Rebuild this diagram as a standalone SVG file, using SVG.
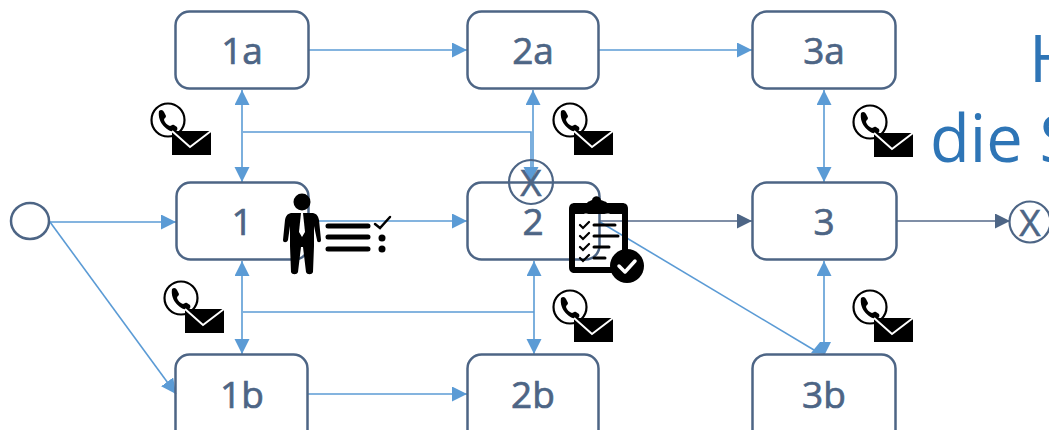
<svg xmlns="http://www.w3.org/2000/svg" xmlns:xlink="http://www.w3.org/1999/xlink" width="1049" height="430" viewBox="0 0 1049 430">
<style>
.box{fill:none;stroke:#4d6585;stroke-width:2.5}
.lbl{font-family:"Open Sans","Noto Sans",sans-serif;font-size:37px;fill:#4d6585;stroke:#4d6585;stroke-width:.7;text-anchor:middle}
.x{font-family:"Open Sans","Noto Sans",sans-serif;font-size:37px;fill:#4d6585;stroke:#4d6585;stroke-width:.5;text-anchor:middle}
.c{fill:none;stroke:#5b9bd5;stroke-width:1.6}
.d{fill:none;stroke:#7f8ea6;stroke-width:2}
.title{font-family:"Open Sans","Noto Sans",sans-serif;font-size:65px;fill:#2e75b6}
.k{fill:none;stroke:#000;stroke-linecap:round}
</style>
<defs>
<marker id="a" markerUnits="userSpaceOnUse" markerWidth="16" markerHeight="16" refX="15" refY="7.500" orient="auto-start-reverse"><path d="M0 0L15 7.500L0 15Z" fill="#5b9bd5"/></marker>
<marker id="ad" markerUnits="userSpaceOnUse" markerWidth="16" markerHeight="16" refX="15" refY="7.500" orient="auto"><path d="M0 0L15 7.500L0 15Z" fill="#4d6585"/></marker>
<g id="pm">
<circle cx="0" cy="0" r="16.500" fill="#fff" stroke="#000" stroke-width="2.200"/>
<path d="M-9-9C-7-11-5-10-4-8L-2-4C-2-2-4-2-4 0C-3 3-1 5 2 6C3 6 4 4 6 5L9 7C10 9 9 11 7 12C0 12-11 3-9-9Z" fill="#000"/>
<path d="M4 11H43V35H4Z" fill="#000"/>
<path d="M4 11L22 27L43 11" fill="none" stroke="#fff" stroke-width="2"/>
</g>
</defs>
<g id="connectors">
<line class="c" x1="50" y1="222" x2="176" y2="222" marker-end="url(#a)"/>
<line class="c" x1="50" y1="222" x2="176" y2="394" marker-end="url(#a)"/>
<line class="c" x1="309" y1="50" x2="467" y2="50" marker-end="url(#a)"/>
<line class="c" x1="599" y1="50" x2="752" y2="50" marker-end="url(#a)"/>
<line class="c" x1="309" y1="221" x2="467" y2="221" marker-end="url(#a)"/>
<line class="d" x1="600" y1="221" x2="752" y2="221" marker-end="url(#ad)"/>
<line class="d" x1="897" y1="221" x2="1010" y2="221" marker-end="url(#ad)"/>
<line class="c" x1="308" y1="394" x2="467" y2="394" marker-end="url(#a)"/>
<line class="c" x1="242" y1="90" x2="242" y2="182" marker-start="url(#a)" marker-end="url(#a)"/>
<line class="c" x1="242" y1="261" x2="242" y2="354" marker-start="url(#a)" marker-end="url(#a)"/>
<path class="c" d="M243 132H531V182" marker-end="url(#a)"/>
<line class="c" x1="533" y1="182" x2="533" y2="90" marker-end="url(#a)"/>
<path class="c" d="M243 312H534"/>
<line class="c" x1="534" y1="261" x2="534" y2="354" marker-start="url(#a)" marker-end="url(#a)"/>
<line class="c" x1="824" y1="90" x2="824" y2="182" marker-start="url(#a)" marker-end="url(#a)"/>
<line class="c" x1="824" y1="261" x2="824" y2="354" marker-start="url(#a)"/>
<line class="c" x1="600" y1="222" x2="814" y2="350"/>
<path d="M811 353L820 342H831L825 354Z" fill="#5b9bd5"/>
</g>
<g id="start"><ellipse class="box" cx="30" cy="221" rx="19" ry="18"/></g>
<g id="n1a"><rect class="box" x="175.500" y="11.500" width="133" height="77" rx="14"/><text class="lbl" x="242" y="64">1a</text></g>
<g id="n2a"><rect class="box" x="467.500" y="11.500" width="131" height="77" rx="14"/><text class="lbl" x="533" y="64">2a</text></g>
<g id="n3a"><rect class="box" x="752.500" y="11.500" width="143" height="77" rx="14"/><text class="lbl" x="824" y="64">3a</text></g>
<g id="n1"><rect class="box" x="176.500" y="182.500" width="132" height="77" rx="14"/><text class="lbl" x="242" y="235">1</text></g>
<g id="n2"><rect class="box" x="467.500" y="182.500" width="132" height="77" rx="14"/><text class="lbl" x="533" y="235">2</text></g>
<g id="n3"><rect class="box" x="752.500" y="182.500" width="144" height="77" rx="14"/><text class="lbl" x="824" y="235">3</text></g>
<g id="n1b"><rect class="box" x="175.500" y="354.500" width="132" height="90" rx="14"/><text class="lbl" x="242" y="408">1b</text></g>
<g id="n2b"><rect class="box" x="467.500" y="354.500" width="131" height="90" rx="14"/><text class="lbl" x="533" y="408">2b</text></g>
<g id="n3b"><rect class="box" x="752.500" y="354.500" width="143" height="90" rx="14"/><text class="lbl" x="824" y="408">3b</text></g>
<g id="gw2"><circle cx="531" cy="182" r="22" fill="none" stroke="#4d6585" stroke-width="2.200"/><text class="x" x="531" y="196">X</text></g>
<g id="end"><circle cx="1030" cy="222" r="20.500" fill="none" stroke="#4d6585" stroke-width="2.200"/><text class="x" x="1030" y="236">X</text></g>
<g id="title"><text class="title" x="1029" y="82">H</text><text class="title" x="930" y="162">die S</text></g>
<g id="contact-icons">
<use xlink:href="#pm" href="#pm" x="168" y="120"/>
<use xlink:href="#pm" href="#pm" x="570" y="120"/>
<use xlink:href="#pm" href="#pm" x="870" y="122"/>
<use xlink:href="#pm" href="#pm" x="181" y="298"/>
<use xlink:href="#pm" href="#pm" x="570" y="307"/>
<use xlink:href="#pm" href="#pm" x="870" y="307"/>
</g>
<g id="person">
<circle cx="302" cy="202" r="8.500"/>
<path d="M291 213H313C317 214 318 216 319 220L321 240C321 243 317 243 317 240L314 226V246L313 272C312 275 307 275 306 272L303 247H301L298 272C297 275 292 275 291 272L290 246V226L288 240C287 243 283 243 283 240L285 220C286 216 287 214 291 213Z"/>
<path d="M301 213H303L305 232L302 237L299 232Z" fill="#fff"/>
<path class="k" stroke-width="5" d="M328 226H368M328 237H368M328 249H368"/>
<path class="k" stroke-width="2.500" d="M375 224L380 228L390 217"/>
<circle cx="382" cy="238" r="3.500"/><circle cx="382" cy="249" r="3.500"/>
</g>
<g id="clipboard">
<path fill-rule="evenodd" d="M575 203H587C588 201 591 201 592 200C593 195 600 195 601 200C602 201 606 201 607 203H622C626 203 628 205 628 209V255L622 258V214H610C608 213 607 214 602 214H590C587 214 586 213 584 214H575V267H612L616 273H575C571 273 569 271 569 267V209C569 205 571 203 575 203Z"/>
<rect x="585" y="203" width="26" height="8" rx="4"/>
<path class="k" stroke-width="2.200" d="M580 225L583 228L589 222M580 236L583 239L589 233M580 247L583 250L589 244M580 258L583 261L589 255"/>
<path class="k" stroke-width="3" d="M594 225H615M594 236H618M594 247H609M594 258H605"/>
<circle cx="627" cy="266" r="17"/>
<path d="M619 266L625 272L635 261" fill="none" stroke="#fff" stroke-width="3.500" stroke-linecap="round" stroke-linejoin="round"/>
</g>
</svg>
